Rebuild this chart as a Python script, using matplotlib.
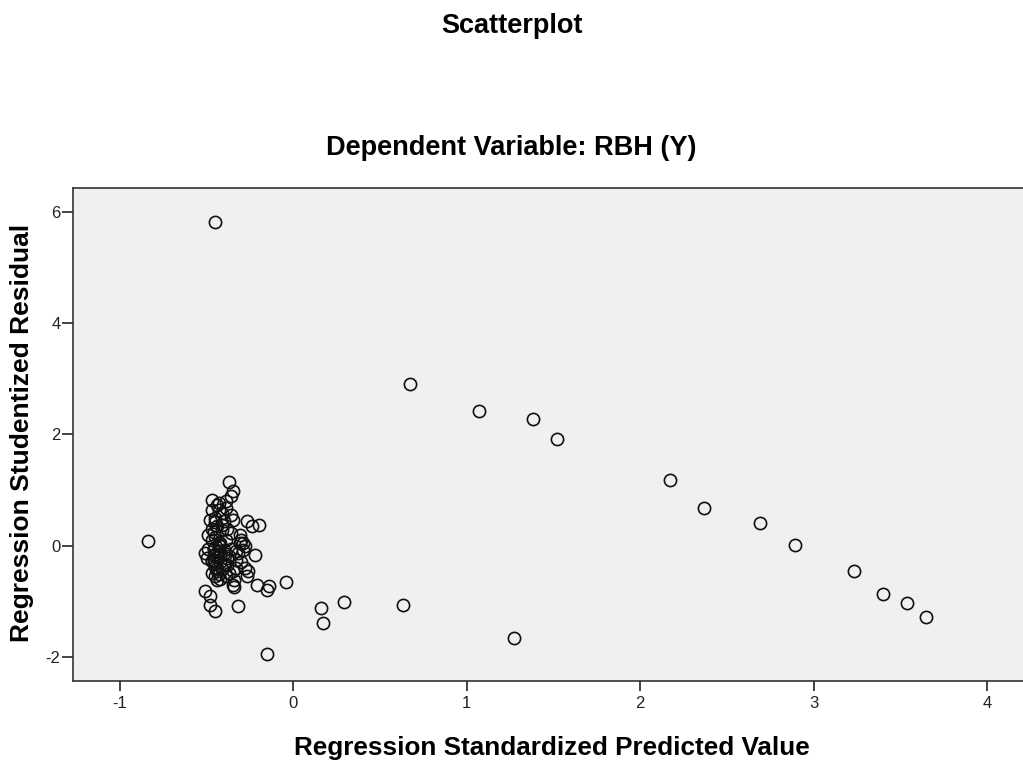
import matplotlib.pyplot as plt

# 数据：点（预测值标准化, 学生化残差）
cluster_x = [
    -0.37, -0.35, -0.36, -0.47, -0.43, -0.39, -0.47, -0.41, -0.44, -0.48,
    -0.35, -0.27, -0.24, -0.20, -0.41, -0.49, -0.36, -0.30, -0.28, -0.47,
    -0.43, -0.51, -0.50, -0.46, -0.45, -0.40, -0.37, -0.32, -0.29, -0.22,
    -0.47, -0.45, -0.28, -0.27, -0.37, -0.34, -0.35, -0.21, -0.14, -0.15,
    -0.04, -0.51, -0.48, -0.48, -0.45, -0.32, -0.44, -0.42, -0.46, -0.44,
    -0.40, -0.38, -0.33, -0.31, -0.43, -0.45, -0.46, -0.41, -0.39, -0.36,
    -0.42, -0.44, -0.30, -0.33, -0.45, -0.47, -0.40, -0.38, -0.31, -0.26,
    -0.43, -0.44, -0.36, -0.34, -0.42, -0.39, -0.47, -0.29,
    -0.46, -0.44, -0.42, -0.45, -0.43, -0.41, -0.47, -0.40, -0.38, -0.46,
    -0.44, -0.42, -0.39, -0.35, -0.33, -0.45, -0.43, -0.49,
]
cluster_y = [
    1.14, 0.98, 0.89, 0.83, 0.77, 0.80, 0.65, 0.59, 0.74, 0.47,
    0.47, 0.44, 0.35, 0.38, 0.38, 0.20, 0.23, 0.11, -0.01, 0.11,
    0.05, -0.13, -0.22, -0.16, -0.31, -0.13, -0.19, -0.13, -0.07, -0.16,
    -0.49, -0.55, -0.40, -0.55, -0.49, -0.61, -0.70, -0.70, -0.73, -0.79,
    -0.66, -0.82, -0.90, -1.07, -1.17, -1.08, -0.40, -0.30, -0.25, -0.45,
    -0.35, -0.22, -0.25, 0.05, 0.02, 0.15, -0.05, 0.28, 0.10, -0.05,
    -0.60, -0.62, -0.30, -0.40, 0.42, 0.30, 0.45, 0.30, 0.20, -0.45,
    -0.10, -0.20, 0.55, -0.75, 0.00, 0.68, -0.28, 0.05,
    -0.05, -0.12, -0.18, -0.38, -0.50, -0.42, -0.28, -0.08, -0.35, 0.25,
    0.35, 0.05, -0.55, -0.45, -0.10, 0.50, 0.65, -0.05,
]
outlier_x = [-0.45, -0.84, 0.67, 1.07, 1.38, 1.52, 2.17, 2.37, 2.69, 2.89,
             3.23, 3.40, 3.54, 3.65, 1.27, 0.63, 0.29, 0.16, 0.17, -0.15]
outlier_y = [5.81, 0.09, 2.90, 2.43, 2.28, 1.91, 1.19, 0.67, 0.41, 0.02,
             -0.45, -0.86, -1.03, -1.28, -1.65, -1.06, -1.01, -1.12, -1.38, -1.94]

x_ticks = [-1, 0, 1, 2, 3, 4]
y_ticks = [-2, 0, 2, 4, 6]

plt.rcParams.update({
    "font.family": ["Liberation Sans", "DejaVu Sans"],
    "axes.linewidth": 1.2,
    "axes.unicode_minus": False,
})

fig = plt.figure(figsize=(10.23, 7.6), dpi=100)
ax = fig.add_axes([0.0714, 0.104, 0.9355, 0.6487])
ax.set_facecolor("#f0f0f0")

xs = cluster_x + outlier_x
ys = cluster_y + outlier_y
ax.plot(xs, ys, linestyle="none", marker="o", markersize=8.8,
        markerfacecolor="none", markeredgecolor="#111111", markeredgewidth=1.2)

ax.set_xlim(-1.27, 4.247)
ax.set_ylim(-2.43, 6.43)
ax.set_xticks(x_ticks)
ax.set_yticks(y_ticks)
ax.tick_params(axis="x", direction="out", length=7.5, width=1.2, labelsize=12,
               pad=3, colors="#222222")
ax.tick_params(axis="y", direction="out", length=8, width=1.2, labelsize=12,
               pad=1, colors="#222222")
for s in ax.spines.values():
    s.set_color("#333333")

# 标题与轴标签
fig.text(0.5, 1 - 26 / 760, "Scatterplot", ha="center", va="center",
         fontsize=19.5, fontweight="bold")
fig.text(0.5, 1 - 148 / 760, "Dependent Variable: RBH (Y)", ha="center",
         va="center", fontsize=19.5, fontweight="bold")
fig.text(552 / 1023, 1 - 755 / 760, "Regression Standardized Predicted Value",
         ha="center", va="baseline", fontsize=18.8, fontweight="bold")
fig.text(22 / 1023, 1 - 433 / 760, "Regression Studentized Residual",
         ha="center", va="center", rotation=90, fontsize=19, fontweight="bold")

fig.savefig("out.png", dpi=100, facecolor="white")
